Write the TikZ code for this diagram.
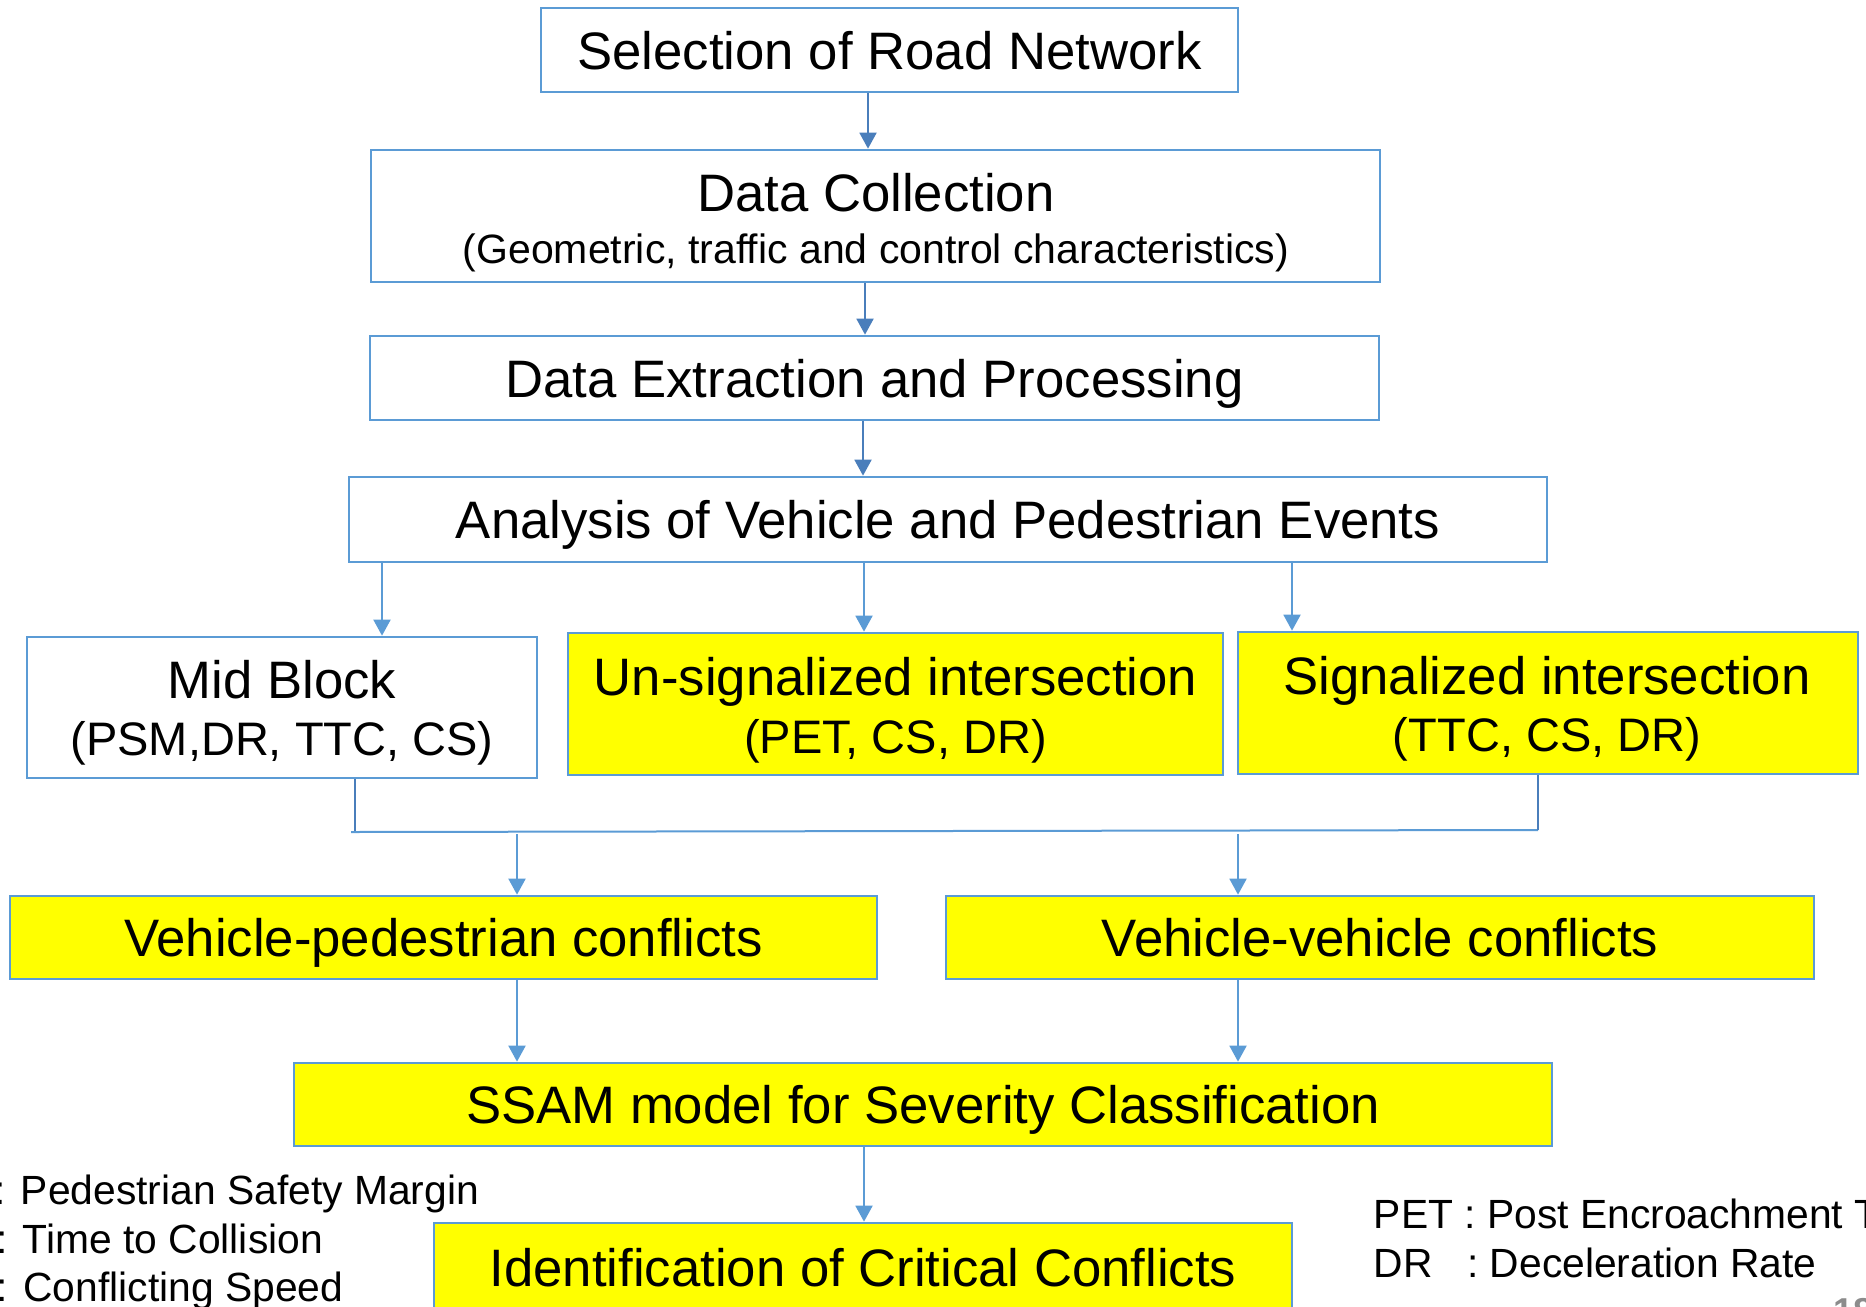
\documentclass[tikz,border=0pt]{standalone}
\usepackage{fontspec}
\setmainfont{Liberation Sans}
\usetikzlibrary{arrows.meta}
\definecolor{bordc}{HTML}{5B9BD5}
\definecolor{arrdark}{HTML}{4A7EBB}
\definecolor{arrlight}{HTML}{5B9BD5}
\definecolor{boxyel}{HTML}{FFFF00}
\definecolor{pgnum}{HTML}{8C8C8C}
\begin{document}
\begin{tikzpicture}[x=0.5pt,y=-0.5pt,
  box/.style={draw=bordc, line width=1.35pt, rectangle, inner sep=0pt,
    font=\fontsize{26.35pt}{30pt}\selectfont, text height=19pt, text depth=0pt},
  ybox/.style={box, fill=boxyel},
  wbox/.style={box, fill=white},
  ttl/.style={inner sep=0pt, font=\fontsize{26.35pt}{30pt}\selectfont, text height=19pt, text depth=0pt},
  second/.style={inner sep=0pt, font=\fontsize{23.5pt}{27pt}\selectfont, text height=17pt, text depth=0pt},
  subttl/.style={inner sep=0pt, font=\fontsize{20.5pt}{24pt}\selectfont, text height=14.7pt, text depth=0pt},
  legend/.style={inner sep=0pt, anchor=base west, font=\fontsize{20.4pt}{24pt}\selectfont},
  arrD/.style={draw=arrdark, line width=1pt, -{Triangle[width=8.5pt,length=8pt]}},
  arrL/.style={draw=arrlight, line width=1pt, -{Triangle[width=8.5pt,length=8pt]}},
  lineD/.style={draw=arrdark, line width=1pt},
  lineL/.style={draw=arrlight, line width=1pt}
]
\useasboundingbox (0,0) rectangle (1866,1306);

% boxes
\node[wbox, minimum width=348.5pt, minimum height=42pt] (sel) at (889.5,50) {Selection of Road Network};
\node[wbox, minimum width=504.5pt, minimum height=66pt] (dcoll) at (875.5,216) {};
\node[ttl] (dcollT) at (876,192) {Data Collection};
\node[subttl] (dcollS) at (876,249) {(Geometric, traffic and control characteristics)};
\node[wbox, minimum width=504.5pt, minimum height=42pt] (dext) at (874.5,378) {Data Extraction and Processing};
\node[wbox, minimum width=599pt, minimum height=42.5pt] (anal) at (948,519.5) {Analysis of Vehicle and Pedestrian Events};

\node[wbox, minimum width=255pt, minimum height=70.5pt] (mid) at (282,707.5) {};
\node[ttl] (midT) at (282,679) {Mid Block};
\node[second] (midS) at (282,738) {(PSM,DR, TTC, CS)};
\node[ybox, minimum width=327.5pt, minimum height=71pt] (unsig) at (895.5,704) {};
\node[ttl] (unsigT) at (895.5,676) {Un-signalized intersection};
\node[second] (unsigS) at (895.5,736) {(PET, CS, DR)};
\node[ybox, minimum width=310pt, minimum height=71pt] (sig) at (1548,703) {};
\node[ttl] (sigT) at (1547,675) {Signalized intersection};
\node[second] (sigS) at (1547,734) {(TTC, CS, DR)};

\node[ybox, minimum width=433.5pt, minimum height=41.5pt] (vp) at (443.5,937.5) {Vehicle-pedestrian conflicts};
\node[ybox, minimum width=434pt, minimum height=41.5pt] (vv) at (1380,937.5) {Vehicle-vehicle conflicts};
\node[ybox, minimum width=629pt, minimum height=41.5pt] (ssam) at (923,1104.5) {SSAM model for Severity Classification};
\node[ybox, minimum width=429pt, minimum height=44pt] (ident) at (863,1267) {Identification of Critical Conflicts};

% connector x positions
\coordinate (c1) at (868,0);
\coordinate (c2) at (865,0);
\coordinate (c3) at (863,0);
\coordinate (c4) at (382,0);
\coordinate (c5) at (864,0);
\coordinate (c6) at (1292,0);
\coordinate (jl0) at (351,832);
\coordinate (jl) at (355,832);
\coordinate (jr) at (1538,830);
\coordinate (ja) at (517,834);
\coordinate (jb) at (1238,834);

\draw[arrD] (sel.south -| c1) -- (dcoll.north -| c1);
\draw[arrD] (dcoll.south -| c2) -- (dext.north -| c2);
\draw[arrD] (dext.south -| c3) -- (anal.north -| c3);
\draw[arrL] (anal.south -| c4) -- (mid.north -| c4);
\draw[arrL] (anal.south -| c5) -- (unsig.north -| c5);
\draw[arrL] (anal.south -| c6) -- (sig.north -| c6);

\draw[lineD] (mid.south -| jl) -- (jl);
\draw[lineL] (jl0) -- (jr);
\draw[lineD] (jr) -- (sig.south -| jr);

\draw[arrL] (ja) -- (vp.north -| ja);
\draw[arrL] (jb) -- (vv.north -| jb);
\draw[arrL] (vp.south -| ja) -- (ssam.north -| ja);
\draw[arrL] (vv.south -| jb) -- (ssam.north -| jb);
\draw[arrL] (ssam.south -| c5) -- (ident.north -| c5);

% legends
\node[legend] (lg1) at (-6,1204.5) {: Pedestrian Safety Margin};
\node[legend] (lg2) at (-4,1253.5) {: Time to Collision};
\node[legend] (lg3) at (-3.5,1301) {: Conflicting Speed};
\node[legend] (lg4) at (1373.5,1228.5) {PET : Post Encroachment T};
\node[legend] (lg5) at (1373.5,1277.5) {DR\hspace{17.25pt}: Deceleration Rate};
\node[inner sep=0pt, anchor=base west, font=\fontsize{18pt}{20pt}\bfseries\selectfont, text=pgnum] (pg) at (1833,1323) {18};
\end{tikzpicture}
\end{document}
